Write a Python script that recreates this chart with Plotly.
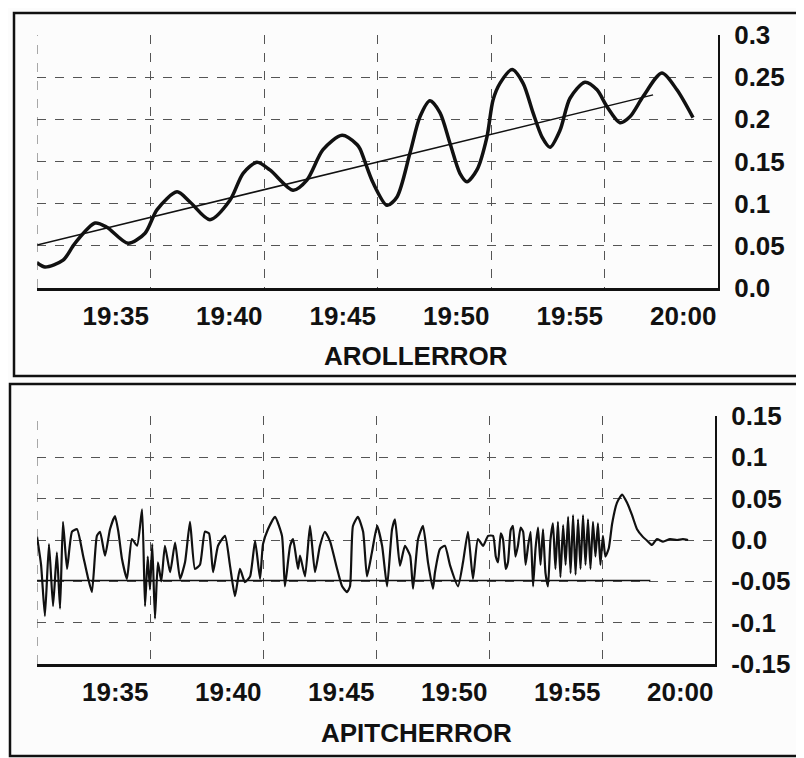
import plotly.graph_objects as go
import pandas as pd

BASE = pd.Timestamp("2000-01-01 19:30:00")

# ---- data (minutes after 19:30, value) ----
roll_min = [0.00, 0.35, 1.15, 1.67, 2.56, 3.08, 4.01, 4.76, 5.29, 6.17, 6.74, 7.62, 8.50, 9.08,
            9.69, 10.26, 11.28, 11.89, 12.60, 13.44, 14.10, 14.23, 14.80, 15.42, 15.86, 16.43,
            16.87, 17.31, 17.75, 18.19, 18.63, 18.94, 19.38, 19.82, 20.09, 20.40, 20.93, 21.41,
            21.85, 22.25, 22.60, 23.04, 23.48, 24.14, 24.67, 25.11, 25.68, 26.12, 26.70, 27.53,
            28.19, 28.90]
roll_val = [0.030, 0.025, 0.033, 0.053, 0.077, 0.072, 0.053, 0.065, 0.093, 0.114, 0.102, 0.081,
            0.104, 0.136, 0.149, 0.140, 0.116, 0.128, 0.164, 0.181, 0.170, 0.165, 0.125, 0.098,
            0.108, 0.160, 0.203, 0.222, 0.208, 0.172, 0.136, 0.126, 0.140, 0.179, 0.223, 0.243,
            0.259, 0.243, 0.208, 0.179, 0.167, 0.187, 0.225, 0.244, 0.235, 0.215, 0.196, 0.203,
            0.227, 0.255, 0.235, 0.202]
roll_trend_min = [0.0, 27.14]
roll_trend_val = [0.051, 0.229]

pitch_min = [0.00, 0.18, 0.35, 0.53, 0.71, 0.88, 1.02, 1.15, 1.33, 1.55, 1.77, 2.04, 2.25, 2.43,
             2.65, 2.79, 3.01, 3.23, 3.45, 3.60, 3.76, 3.98, 4.20, 4.43, 4.65, 4.78, 4.90, 5.00,
             5.10, 5.22, 5.35, 5.50, 5.66, 5.89, 6.11, 6.33, 6.55, 6.77, 6.99, 7.21, 7.43, 7.61,
             7.79, 8.01, 8.32, 8.54, 8.76, 8.98, 9.20, 9.43, 9.65, 9.87, 10.00, 10.22, 10.53,
             10.84, 10.97, 11.20, 11.33, 11.55, 11.64, 11.86, 12.08, 12.30, 12.52, 12.74, 12.97,
             13.28, 13.50, 13.72, 13.85, 13.98, 14.20, 14.43, 14.60, 14.82, 15.05, 15.27, 15.49,
             15.71, 15.84, 16.06, 16.28, 16.51, 16.64, 16.86, 17.08, 17.30, 17.52, 17.61, 17.83,
             18.05, 18.28, 18.63, 18.85, 19.07, 19.29, 19.51, 19.74, 19.96, 20.18, 20.30, 20.40,
             20.52, 20.62, 20.74, 20.84, 20.96, 21.06, 21.17, 21.28, 21.40, 21.51, 21.62, 21.73,
             21.84, 21.95, 22.06, 22.17, 22.28, 22.39, 22.50, 22.61, 22.72, 22.83, 22.94, 23.05,
             23.16, 23.28, 23.39, 23.50, 23.61, 23.72, 23.83, 23.94, 24.05, 24.16, 24.27, 24.38,
             24.49, 24.60, 24.71, 24.82, 24.93, 25.04, 25.15, 25.30, 25.45, 25.66, 25.89, 26.11,
             26.33, 26.55, 26.77, 27.04, 27.21, 27.43, 27.70, 28.01, 28.32, 28.58, 28.81]
pitch_val = [0.004, -0.030, -0.092, -0.005, -0.080, -0.015, -0.083, 0.022, -0.035, 0.010, 0.013,
             -0.019, -0.045, -0.063, 0.005, 0.010, -0.019, 0.013, 0.029, 0.010, -0.023, -0.047,
             0.001, -0.007, 0.037, -0.080, -0.020, -0.060, -0.005, -0.095, -0.027, -0.050, -0.007,
             -0.039, -0.003, -0.047, -0.027, 0.022, -0.035, -0.030, 0.010, 0.008, -0.039, -0.007,
             0.005, -0.031, -0.068, -0.035, -0.051, -0.044, -0.001, -0.047, -0.005, 0.013, 0.028,
             0.005, -0.056, -0.007, 0.001, -0.035, -0.019, -0.044, 0.017, -0.039, -0.007, 0.010,
             -0.002, -0.035, -0.056, -0.063, -0.056, 0.017, 0.028, 0.010, -0.044, -0.015, 0.017,
             -0.007, -0.056, 0.013, 0.025, -0.031, -0.007, -0.019, -0.059, 0.001, 0.017, -0.027,
             -0.059, -0.039, -0.011, -0.007, -0.031, -0.056, -0.027, 0.010, -0.047, 0.001, -0.007,
             0.005, 0.005, -0.020, -0.027, 0.008, 0.001, -0.035, -0.027, 0.012, 0.017, -0.020,
             -0.007, 0.015, 0.010, -0.030, -0.007, 0.010, -0.056, -0.010, 0.015, -0.030, 0.013,
             -0.040, -0.056, 0.000, 0.020, -0.035, 0.022, -0.045, 0.018, -0.030, 0.028, -0.040,
             0.030, -0.042, 0.025, -0.035, 0.030, -0.030, 0.025, -0.035, 0.022, -0.020, 0.020,
             -0.030, 0.005, -0.020, -0.010, 0.020, 0.045, 0.055, 0.045, 0.030, 0.013, 0.005,
             -0.002, -0.006, 0.001, -0.002, 0.001, 0.000, 0.001, 0.000]
pitch_trend_min = [0.0, 27.14]
pitch_trend_val = [-0.049, -0.049]

x_tick_times = ["19:30", "19:35", "19:40", "19:45", "19:50", "19:55", "20:00"]
x_tick_text = ["", "19:35", "19:40", "19:45", "19:50", "19:55", "20:00"]
roll_ticks = [0.0, 0.05, 0.1, 0.15, 0.2, 0.25, 0.3]
roll_tick_text = ["0.0", "0.05", "0.1", "0.15", "0.2", "0.25", "0.3"]
pitch_ticks = [-0.15, -0.1, -0.05, 0.0, 0.05, 0.1, 0.15]
pitch_tick_text = ["-0.15", "-0.1", "-0.05", "0.0", "0.05", "0.1", "0.15"]
roll_title = "AROLLERROR"
pitch_title = "APITCHERROR"


def to_time(mins):
    return BASE + pd.to_timedelta(mins, unit="min")


x_tick_vals = [pd.Timestamp("2000-01-01 " + t) for t in x_tick_times]
x_range = [x_tick_vals[0], x_tick_vals[-1]]

# page body has an 8px margin: figure is drawn at (8, 8)
OFF = 8
W, H = 796, 750
FONT = "Liberation Sans, Arial, sans-serif"
INK = "#111111"
GRID = "#555555"


def px(x):
    return (x - OFF) / W


def py(y):
    return 1 - (y - OFF) / H


fig = go.Figure()
fig.add_trace(go.Scatter(x=to_time(roll_min), y=roll_val, mode="lines",
                         line=dict(color=INK, width=3.5, shape="spline", smoothing=0.8),
                         xaxis="x", yaxis="y", showlegend=False))
fig.add_trace(go.Scatter(x=to_time(roll_trend_min), y=roll_trend_val, mode="lines",
                         line=dict(color=INK, width=1.5), xaxis="x", yaxis="y", showlegend=False))
fig.add_trace(go.Scatter(x=to_time(pitch_trend_min), y=pitch_trend_val, mode="lines",
                         line=dict(color=INK, width=1.5), xaxis="x2", yaxis="y2", showlegend=False))
fig.add_trace(go.Scatter(x=to_time(pitch_min), y=pitch_val, mode="lines",
                         line=dict(color=INK, width=2.2, shape="spline", smoothing=0.5),
                         xaxis="x2", yaxis="y2", showlegend=False))

xcommon = dict(type="date", range=x_range, tickvals=x_tick_vals, ticktext=x_tick_text,
               ticks="", ticklabelposition="outside left", ticklabelstandoff=3,
               showgrid=True, gridcolor=GRID, griddash="dash", gridwidth=1,
               showline=True, linecolor=INK, linewidth=3, zeroline=False,
               tickfont=dict(family=FONT, size=26, color=INK, weight="bold"))
ycommon = dict(side="right", ticks="", showgrid=True, gridcolor=GRID, griddash="dash",
               gridwidth=1, showline=True, linecolor=INK, linewidth=2, zeroline=False,
               ticklabelstandoff=9, tickfont=dict(family=FONT, size=26, color=INK, weight="bold"))

edge_lines = []
for xa, ya in (("x", "y"), ("x2", "y2")):
    edge_lines.append(dict(type="line", xref=xa, yref=ya + " domain", x0=x_range[0], x1=x_range[0],
                           y0=0, y1=1, line=dict(color=GRID, width=1, dash="dash")))

fig.update_layout(
    width=W, height=H, margin=dict(l=0, r=0, t=0, b=0),
    paper_bgcolor="#fcfcfc", plot_bgcolor="rgba(0,0,0,0)",
    template="none", showlegend=False,
    xaxis=dict(xcommon, domain=[px(37), px(718)], anchor="y"),
    yaxis=dict(ycommon, domain=[py(288), py(35)], anchor="x", range=[0, 0.3],
               tickvals=roll_ticks, ticktext=roll_tick_text),
    xaxis2=dict(xcommon, domain=[px(37), px(715)], anchor="y2"),
    yaxis2=dict(ycommon, domain=[py(664), py(416)], anchor="x2", range=[-0.15, 0.15],
                tickvals=pitch_ticks, ticktext=pitch_tick_text),
    shapes=edge_lines + [
        dict(type="rect", xref="paper", yref="paper", x0=px(14), x1=px(800), y0=py(376), y1=py(13),
             line=dict(color=INK, width=2.5)),
        dict(type="rect", xref="paper", yref="paper", x0=px(10), x1=px(800), y0=py(756), y1=py(384),
             line=dict(color=INK, width=2.5)),
    ],
    annotations=[
        dict(text=roll_title, xref="paper", yref="paper", x=px(416), y=py(356), showarrow=False,
             font=dict(family=FONT, size=26, color=INK, weight="bold"),
             xanchor="center", yanchor="middle"),
        dict(text=pitch_title, xref="paper", yref="paper", x=px(416), y=py(733), showarrow=False,
             font=dict(family=FONT, size=26, color=INK, weight="bold"),
             xanchor="center", yanchor="middle"),
    ],
)

fig.write_html("out.html")
